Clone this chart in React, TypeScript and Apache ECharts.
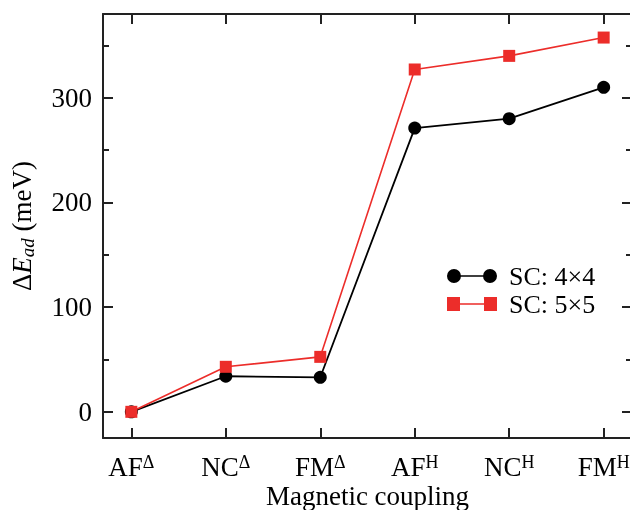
import React, { useEffect, useRef } from "react";
import * as echarts from "echarts";

const categories = ["AF", "NC", "FM", "AF", "NC", "FM"];
const superscripts = ["Δ", "Δ", "Δ", "H", "H", "H"];
const sc4x4 = [0, 34, 33, 271, 280, 310];
const sc5x5 = [0, 43, 52.5, 327, 340, 357.5];
const seriesNames = ["SC: 4×4", "SC: 5×5"];
const yMajorTicks = [0, 100, 200, 300];
const yMinorTicks = [-50, 50, 150, 250, 350];
const xTicks = [0, 1, 2, 3, 4, 5];

const FONT = "Liberation Serif";
const AXIS = "#222";
const RED = "#ec2d2a";

const circleIcon =
  "path://M0,7 A7,7 0 1,1 14,7 A7,7 0 1,1 0,7 Z M36,7 A7,7 0 1,1 50,7 A7,7 0 1,1 36,7 Z M7,6.2 L43,6.2 L43,7.8 L7,7.8 Z";
const squareIcon =
  "path://M0,0 L13,0 L13,14 L0,14 Z M37,0 L50,0 L50,14 L37,14 Z M13,6.2 L37,6.2 L37,7.8 L13,7.8 Z";

export default function App() {
  const ref = useRef<HTMLDivElement>(null);
  useEffect(() => {
    if (!ref.current) return;
    const chart = echarts.init(ref.current, null, { renderer: "svg" });
    const line = { show: true, onZero: false, lineStyle: { color: AXIS, width: 2 } };
    const yCommon = {
      type: "value",
      min: -25,
      max: 380,
      splitLine: { show: false },
    };
    const xCommon = {
      type: "value",
      min: -0.3,
      max: 5.3,
      splitLine: { show: false },
    };
    chart.setOption({
      animation: false,
      textStyle: { fontFamily: FONT },
      grid: { left: 103, top: 14, width: 529, height: 424, containLabel: false, outerBoundsMode: "none" },
      legend: {
        left: 447,
        top: 263,
        padding: 0,
        orient: "vertical",
        itemWidth: 50,
        itemHeight: 14,
        itemGap: 2,
        textStyle: { fontFamily: FONT, fontSize: 26, lineHeight: 22, color: "#000", padding: [0, 0, 0, 7] },
        data: [
          { name: seriesNames[0], icon: circleIcon, itemStyle: { color: "#000" } },
          { name: seriesNames[1], icon: squareIcon, itemStyle: { color: RED } },
        ],
      },
      xAxis: [
        {
          ...xCommon,
          position: "bottom",
          name: "Magnetic coupling",
          nameLocation: "middle",
          nameGap: 48,
          nameMoveOverlap: false,
          nameTextStyle: { fontFamily: FONT, fontSize: 27, lineHeight: 20, color: "#000" },
          axisLine: line,
          axisTick: { show: true, inside: true, length: 10, customValues: xTicks, lineStyle: { color: AXIS, width: 2 } },
          axisLabel: {
            show: true,
            customValues: xTicks,
            margin: 15,
            formatter: (v: number) => `{m|${categories[v]}}{s|${superscripts[v]}}`,
            rich: {
              m: { fontFamily: FONT, fontSize: 27, color: "#000", lineHeight: 28 },
              s: { fontFamily: FONT, fontSize: 18, color: "#000", lineHeight: 14, verticalAlign: "top" },
            },
          },
        },
        {
          ...xCommon,
          position: "top",
          axisLine: line,
          axisTick: { show: true, inside: true, length: 10, customValues: xTicks, lineStyle: { color: AXIS, width: 2 } },
          axisLabel: { show: false },
        },
      ],
      yAxis: [
        {
          ...yCommon,
          position: "left",
          name: "{n|Δ}{i|E}{sub|ad}{n| (meV)}",
          nameLocation: "middle",
          nameGap: 66,
          nameRotate: 90,
          nameTextStyle: {
            rich: {
              n: { fontFamily: FONT, fontSize: 27, color: "#000", lineHeight: 30 },
              i: { fontFamily: FONT, fontSize: 27, color: "#000", fontStyle: "italic", lineHeight: 30 },
              sub: { fontFamily: FONT, fontSize: 19, color: "#000", fontStyle: "italic", lineHeight: 16, verticalAlign: "bottom" },
            },
          },
          axisLine: line,
          axisTick: { show: true, inside: true, length: 10, customValues: yMajorTicks, lineStyle: { color: AXIS, width: 2 } },
          axisLabel: {
            show: true,
            customValues: yMajorTicks,
            margin: 11,
            fontFamily: FONT,
            fontSize: 27,
            color: "#000",
          },
        },
        {
          ...yCommon,
          position: "left",
          axisLine: { show: false, onZero: false },
          axisTick: { show: true, inside: true, length: 6, customValues: yMinorTicks, lineStyle: { color: AXIS, width: 2 } },
          axisLabel: { show: false },
        },
        {
          ...yCommon,
          position: "right",
          axisLine: line,
          axisTick: { show: true, inside: true, length: 10, customValues: yMajorTicks, lineStyle: { color: AXIS, width: 2 } },
          axisLabel: { show: false },
        },
        {
          ...yCommon,
          position: "right",
          axisLine: { show: false, onZero: false },
          axisTick: { show: true, inside: true, length: 6, customValues: yMinorTicks, lineStyle: { color: AXIS, width: 2 } },
          axisLabel: { show: false },
        },
      ],
      series: [
        {
          name: seriesNames[0],
          type: "line",
          xAxisIndex: 0,
          yAxisIndex: 0,
          data: sc4x4.map((v, i) => [i, v]),
          symbol: "circle",
          symbolSize: 13,
          itemStyle: { color: "#000" },
          lineStyle: { color: "#000", width: 1.8 },
        },
        {
          name: seriesNames[1],
          type: "line",
          xAxisIndex: 0,
          yAxisIndex: 0,
          data: sc5x5.map((v, i) => [i, v]),
          symbol: "rect",
          symbolSize: 12,
          itemStyle: { color: RED },
          lineStyle: { color: RED, width: 1.6 },
        },
      ],
    });
    return () => chart.dispose();
  }, []);
  return <div ref={ref} style={{ width: 630, height: 510, position: "fixed", left: 0, top: 0 }} />;
}
